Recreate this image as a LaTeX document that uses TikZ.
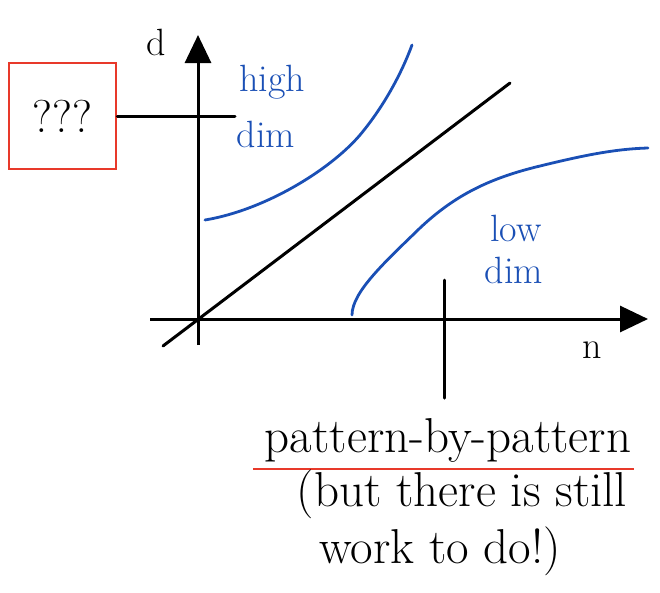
\documentclass[tikz,border=0pt]{standalone}
\usetikzlibrary{arrows.meta}
\definecolor{penblue}{HTML}{1A4FB5}
\definecolor{penred}{HTML}{E8392A}
\begin{document}
\begin{tikzpicture}[x=1pt,y=-1pt,
  ink/.style={line width=3pt,line cap=round},
  bluetxt/.style={text=penblue,font=\fontsize{38}{38}\selectfont,inner sep=0pt},
  bigtxt/.style={font=\fontsize{49}{52}\selectfont,inner sep=0pt},
  axtip/.style={-{Triangle[length=28pt,width=26pt]}}]
\useasboundingbox (0,0) rectangle (660,592);
% axes
\coordinate (ybot) at (198,345);
\coordinate (ytop) at (198,35);
\coordinate (xleft) at (150,319);
\coordinate (xright) at (648,319);
\draw[line width=3pt,axtip] (ybot) -- (ytop);
\draw[line width=3pt,axtip] (xleft) -- (xright);
\node[font=\fontsize{38}{38}\selectfont,inner sep=0pt] (dlab) at (156,42) {d};
\node[font=\fontsize{38}{38}\selectfont,inner sep=0pt] (nlab) at (592,350) {n};
% diagonal
\coordinate (d1) at (163,346);
\coordinate (d2) at (510,83);
\draw[ink] (d1) -- (d2);
% box
\node[draw=penred,line width=2.5pt,minimum width=107pt,minimum height=106pt,inner sep=0pt,font=\fontsize{46}{46}\selectfont] (qbox) at (62.5,116) {???};
\coordinate (hend) at (235,116);
\draw[ink] (qbox.east) -- (hend);
% high dim
\node[bluetxt] (high) at (272,82) {high};
\node[bluetxt] (dim1) at (266,134) {dim};
\draw[penblue,ink,line width=2.8pt] (205,220) .. controls (265,210) and (330,170) .. (360,135) .. controls (385,105) and (402,72) .. (412,45);
% low dim
\node[bluetxt] (low) at (516,228) {low};
\node[bluetxt] (dim2) at (514,270) {dim};
\draw[penblue,ink,line width=2.8pt] (352,315) .. controls (352,292) and (385,262) .. (420,228) .. controls (455,195) and (490,178) .. (540,166) .. controls (585,155) and (615,149) .. (648,148);
% vertical pointer
\coordinate (vtop) at (444,280);
\coordinate (vbot) at (444,398);
\draw[ink] (vtop) -- (vbot);
% bottom text
\node[bigtxt] (pbp) at (448,440) {pattern-by-pattern};
\coordinate (ul1) at (253,469);
\coordinate (ul2) at (634,469);
\draw[penred,line width=2.5pt] (ul1) -- (ul2);
\node[bigtxt] (but) at (462,494) {(but there is still};
\node[bigtxt] (work) at (440,551) {work to do!)};
\end{tikzpicture}
\end{document}
